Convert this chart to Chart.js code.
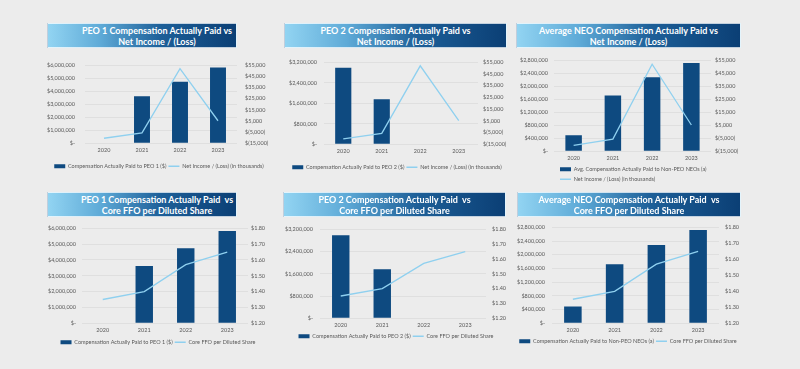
<!DOCTYPE html>
<html>
<head>
<meta charset="utf-8">
<script src="https://cdn.jsdelivr.net/npm/chart.js@4.4.1/dist/chart.umd.min.js"></script>
<style>
  html, body { margin: 0; padding: 0; }
  body { width: 800px; height: 369px; background: #ececec; position: relative; overflow: hidden; font-family: Lato, sans-serif; }
  .banner {
    position: absolute; box-sizing: border-box;
    border: 1px solid rgba(255,255,255,0.75);
    background: linear-gradient(90deg, #92d4f2 0%, #5eaad7 28%, #1d5f98 60%, #0b3f75 100%);
    color: #fff; font-weight: bold; font-size: 9px; line-height: 11px; text-align: center;
    display: flex; flex-direction: column; justify-content: center;
  }
  canvas { position: absolute; }
</style>
</head>
<body>
<script>
// data
const years = ['2020', '2021', '2022', '2023'];
const peo1Cap = [null, 3620000, 4740000, 5830000];
const peo2Cap = [2990000, 1760000, null, null];
const neoCap = [490000, 1720000, 2280000, 2720000];
const netIncome = [-10500, -5700, 52000, 5200];   // in thousands
const coreFfo = [1.35, 1.40, 1.57, 1.65];

const peo1Label = 'Compensation Actually Paid to PEO 1 ($)';
const peo2Label = 'Compensation Actually Paid to PEO 2 ($)';
const neoLabel = 'Compensation Actually Paid to Non-PEO NEOs (a)';
const neoAvgLabel = 'Avg. Compensation Actually Paid to Non-PEO NEOs (a)';
const niLabel = 'Net Income / (Loss) (in thousands)';
const ffoLabel = 'Core FFO per Diluted Share';

const BAR = '#0e4a80';
const LINE = '#8fd0ef';
const TXT = '#595959';
const FS = 5.5;    // tick labels
const LFS = 5.5;   // legend labels

Chart.defaults.font.family = 'Lato, sans-serif';
Chart.defaults.font.size = FS;
Chart.defaults.color = TXT;

function money(v) {
  if (v === 0) return '$-';
  return '$' + v.toLocaleString('en-US');
}
function paren(v) {
  if (v === 0) return '$-';
  if (v < 0) return '$(' + Math.abs(v).toLocaleString('en-US') + ')';
  return '$' + v.toLocaleString('en-US');
}
function dollars2(v) {
  return '$' + v.toFixed(2);
}

const rightNI = { min: -15000, max: 55000, step: 10000, fmt: paren };
const rightFFO = { min: 1.2, max: 1.8, step: 0.1, fmt: dollars2 };

const panels = [
  { title: ['PEO 1 Compensation Actually Paid vs', 'Net Income / (Loss)'],
    bars: peo1Cap, barLabel: peo1Label, line: netIncome, lineLabel: niLabel,
    leftMax: 6000000, leftStep: 1000000, right: rightNI,
    banner: { x: 47, y: 23, w: 190, h: 25, shift: 15 },
    plot: { l: 85, r: 237, t: 60, b: 141 }, lgap: 10, rgap: 8,
    legendY: 164, legendX: 159, legendPad: 2, rows: 1 },
  { title: ['PEO 2 Compensation Actually Paid vs', 'Net Income / (Loss)'],
    bars: peo2Cap, barLabel: peo2Label, line: netIncome, lineLabel: niLabel,
    leftMax: 3200000, leftStep: 800000, right: rightNI,
    banner: { x: 284, y: 23, w: 223, h: 25, shift: 0 },
    plot: { l: 324, r: 478, t: 60, b: 142 }, lgap: 7, rgap: 5,
    legendY: 165, legendX: 397, legendPad: 2, rows: 1 },
  { title: ['Average NEO Compensation Actually Paid vs', 'Net Income / (Loss)'],
    bars: neoCap, barLabel: neoAvgLabel, line: netIncome, lineLabel: niLabel,
    leftMax: 2800000, leftStep: 400000, right: rightNI,
    banner: { x: 516, y: 23, w: 225, h: 25, shift: 0 },
    plot: { l: 554, r: 711, t: 59, b: 147 }, lgap: 6, rgap: 4,
    legendY: 165, legendStart: 560, legendPad: 4.5, rows: 2 },
  { title: ['PEO 1 Compensation Actually Paid  vs', 'Core FFO per Diluted Share'],
    bars: peo1Cap, barLabel: peo1Label, line: coreFfo, lineLabel: ffoLabel,
    leftMax: 6000000, leftStep: 1000000, right: rightFFO,
    banner: { x: 47, y: 192, w: 190, h: 25, shift: 15 },
    plot: { l: 82, r: 248, t: 227, b: 321 }, lgap: 6, rgap: 3,
    legendY: 340, legendX: 158, legendPad: 2, rows: 1 },
  { title: ['PEO 2 Compensation Actually Paid  vs', 'Core FFO per Diluted Share'],
    bars: peo2Cap, barLabel: peo2Label, line: coreFfo, lineLabel: ffoLabel,
    leftMax: 3200000, leftStep: 800000, right: rightFFO,
    banner: { x: 283, y: 192, w: 223, h: 25, shift: 0 },
    plot: { l: 320, r: 486, t: 227, b: 316 }, lgap: 7, rgap: 6,
    legendY: 334, legendX: 396, legendPad: 2, rows: 1 },
  { title: ['Average NEO Compensation Actually Paid  vs', 'Core FFO per Diluted Share'],
    bars: neoCap, barLabel: neoLabel, line: coreFfo, lineLabel: ffoLabel,
    leftMax: 2800000, leftStep: 400000, right: rightFFO,
    banner: { x: 517, y: 192, w: 224, h: 25, shift: 0 },
    plot: { l: 552, r: 719, t: 225, b: 321 }, lgap: 7, rgap: 6,
    legendY: 339, legendX: 628, legendPad: 2, rows: 1 }
];

// moves the legend sideways after layout so it lines up with the reference
const legendShift = {
  id: 'legendShift',
  afterLayout(chart, args, opts) {
    const lg = chart.legend;
    if (!lg) return;
    const pad = chart.options.plugins.legend.labels.padding;
    let dx;
    if (opts.start != null) dx = opts.start - (lg.left + pad);
    else dx = opts.center - (lg.left + lg.right) / 2;
    lg.left += dx;
    lg.right += dx;
  }
};

function makePanel(p) {
  const b = document.createElement('div');
  b.className = 'banner';
  b.style.left = p.banner.x + 'px';
  b.style.top = p.banner.y + 'px';
  b.style.width = p.banner.w + 'px';
  b.style.height = p.banner.h + 'px';
  b.style.paddingLeft = (2 * p.banner.shift) + 'px';
  b.innerHTML = p.title.map(t => '<div>' + t.replace(/  /g, ' &nbsp;') + '</div>').join('');
  document.body.appendChild(b);

  const leftW = 55, rightW = 42, padTop = 8;
  const lp = p.legendPad;
  const legendH = lp + p.rows * (LFS + lp) + 10;
  const legendTop = p.legendY - lp - LFS / 2;
  const xH = legendTop - p.plot.b;
  const cx = p.plot.l - leftW;
  const cy = p.plot.t - padTop;
  const cw = leftW + (p.plot.r - p.plot.l) + rightW;
  const ch = Math.round(padTop + (p.plot.b - p.plot.t) + xH + legendH);

  const c = document.createElement('canvas');
  c.width = cw;
  c.height = ch;
  c.style.left = cx + 'px';
  c.style.top = cy + 'px';
  c.style.width = cw + 'px';
  c.style.height = ch + 'px';
  document.body.appendChild(c);

  const wrapLegend = p.rows > 1;

  new Chart(c, {
    type: 'bar',
    data: {
      labels: years,
      datasets: [
        { type: 'bar', label: p.barLabel, data: p.bars, backgroundColor: BAR, borderWidth: 0,
          yAxisID: 'y', order: 1, barPercentage: 0.42, categoryPercentage: 1 },
        { type: 'line', label: p.lineLabel, data: p.line, borderColor: LINE, backgroundColor: LINE,
          borderWidth: 1.3, pointRadius: 0, tension: 0, yAxisID: 'y1', order: 0 }
      ]
    },
    options: {
      responsive: false,
      animation: false,
      devicePixelRatio: 1,
      layout: { padding: { top: padTop, left: 0, right: 0, bottom: 0 } },
      scales: {
        x: {
          grid: { display: false, drawTicks: false },
          border: { display: false },
          ticks: { padding: 4, font: { size: FS } },
          afterFit: s => { s.height = xH; }
        },
        y: {
          position: 'left',
          min: 0, max: p.leftMax,
          grid: { color: 'rgba(0,0,0,0.07)', lineWidth: 0.8, drawTicks: false },
          border: { display: false },
          ticks: { stepSize: p.leftStep, padding: p.lgap, callback: v => money(v) },
          afterFit: s => { s.width = leftW; }
        },
        y1: {
          position: 'right',
          min: p.right.min, max: p.right.max,
          grid: { drawOnChartArea: false, drawTicks: false },
          border: { display: false },
          ticks: { stepSize: p.right.step, padding: p.rgap, callback: v => p.right.fmt(v) },
          afterFit: s => { s.width = rightW; }
        }
      },
      plugins: {
        tooltip: { enabled: false },
        legend: {
          position: 'bottom',
          fullSize: !wrapLegend,
          align: wrapLegend ? 'start' : 'center',
          maxHeight: legendH,
          labels: {
            usePointStyle: true,
            pointStyleWidth: 11,
            boxHeight: 4,
            padding: lp,
            color: TXT,
            font: { size: LFS },
            sort: (a, b) => a.datasetIndex - b.datasetIndex,
            generateLabels: chart => {
              const items = Chart.defaults.plugins.legend.labels.generateLabels(chart);
              items.forEach(it => {
                if (it.datasetIndex === 0) {
                  it.pointStyle = 'rect'; it.fillStyle = BAR; it.strokeStyle = BAR; it.lineWidth = 0;
                } else {
                  it.pointStyle = 'line'; it.strokeStyle = LINE; it.lineWidth = 1.3;
                }
              });
              return items;
            }
          }
        },
        legendShift: wrapLegend
          ? { start: p.legendStart - cx }
          : { center: p.legendX - cx }
      }
    },
    plugins: [legendShift]
  });
}

panels.forEach(makePanel);
</script>
</body>
</html>
